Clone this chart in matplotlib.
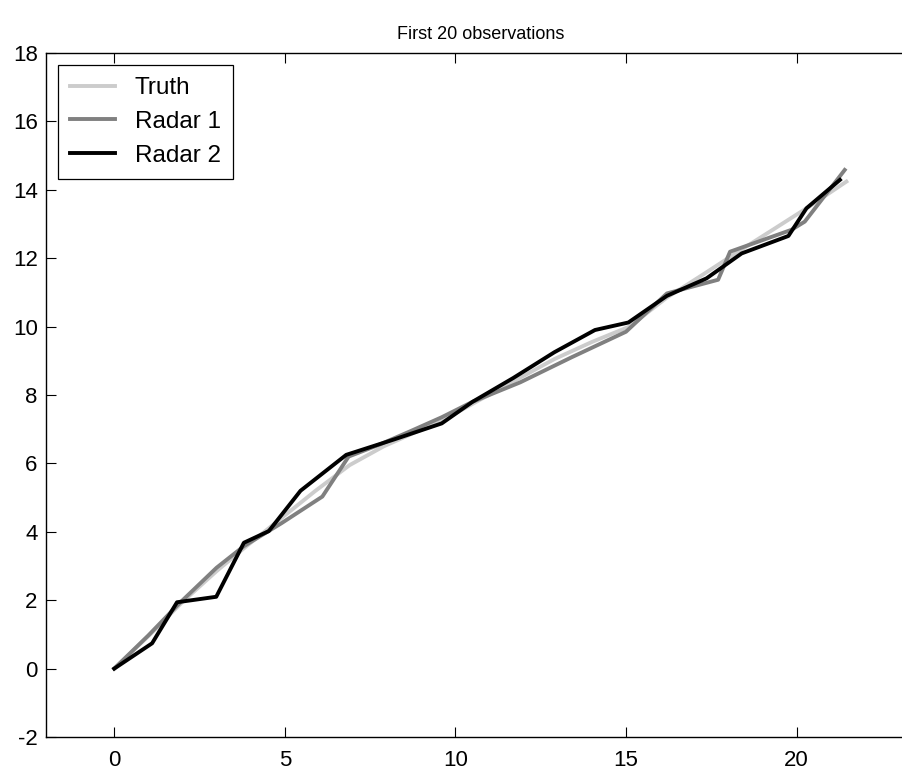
import matplotlib
matplotlib.use("Agg")
import matplotlib.pyplot as plt

plt.rcParams["font.family"] = ["Liberation Sans", "DejaVu Sans"]
plt.rcParams["axes.unicode_minus"] = False

# positions (x, y)
truth_x = [0, 1.05, 2.0, 3.0, 3.9, 4.9, 5.9, 6.9, 7.9, 8.8, 9.7, 10.7, 11.8, 12.9,
           14.0, 15.1, 16.2, 17.3, 18.3, 19.3, 20.4, 21.46]
truth_y = [0, 1.0, 1.95, 2.85, 3.6, 4.4, 5.2, 5.95, 6.5, 6.9, 7.3, 7.85, 8.45, 9.05,
           9.55, 10.0, 10.85, 11.55, 12.2, 12.83, 13.53, 14.24]

radar1_x = [0, 1.0, 1.9, 3.0, 3.8, 4.9, 6.1, 6.87, 7.8, 8.7, 9.6, 10.5, 11.9, 13.4,
            15.0, 16.2, 17.7, 18.05, 19.85, 20.24, 21.41]
radar1_y = [0, 0.97, 1.9, 2.95, 3.58, 4.25, 5.03, 6.2, 6.56, 6.95, 7.35, 7.8, 8.37, 9.1,
            9.85, 10.97, 11.37, 12.19, 12.83, 13.07, 14.58]

radar2_x = [0, 1.11, 1.84, 2.99, 3.8, 4.53, 5.46, 6.8, 8.2, 9.6, 10.5, 11.7, 12.9,
            14.09, 15.07, 16.2, 17.36, 18.39, 19.76, 20.29, 21.27]
radar2_y = [0, 0.74, 1.94, 2.1, 3.68, 4.02, 5.2, 6.25, 6.7, 7.17, 7.8, 8.5, 9.25,
            9.9, 10.12, 10.9, 11.41, 12.14, 12.65, 13.46, 14.29]

labels = ["Truth", "Radar 1", "Radar 2"]
colors = ["#cccccc", "#808080", "#000000"]

fig = plt.figure(figsize=(9.03, 7.74), dpi=100)
ax = fig.add_axes([46 / 903, 37 / 774, 870 / 903, 684 / 774])

ax.plot(truth_x, truth_y, color=colors[0], lw=2.8, label=labels[0])
ax.plot(radar1_x, radar1_y, color=colors[1], lw=2.8, label=labels[1])
ax.plot(radar2_x, radar2_y, color=colors[2], lw=2.8, label=labels[2])

ax.set_xlim(-2, 23.5)
ax.set_ylim(-2, 18)
ax.set_xticks([0, 5, 10, 15, 20])
ax.set_yticks(range(-2, 19, 2))
ax.tick_params(direction="in", length=7, width=0.8, top=True, right=False,
               labelsize=16, colors="black")
ax.tick_params(axis="x", pad=9)
ax.tick_params(axis="y", pad=6)
ax.spines["right"].set_visible(False)
for s in ax.spines.values():
    s.set_linewidth(1.0)

ax.set_title("First 20 observations", fontsize=13, pad=10)

leg = ax.legend(loc="upper left", fontsize=17.5, fancybox=False, edgecolor="black",
                framealpha=1, handlelength=1.85, handletextpad=0.8,
                labelspacing=0.48, borderpad=0.5, borderaxespad=0.5)
leg.get_frame().set_linewidth(0.9)

fig.savefig("out.png", dpi=100)
